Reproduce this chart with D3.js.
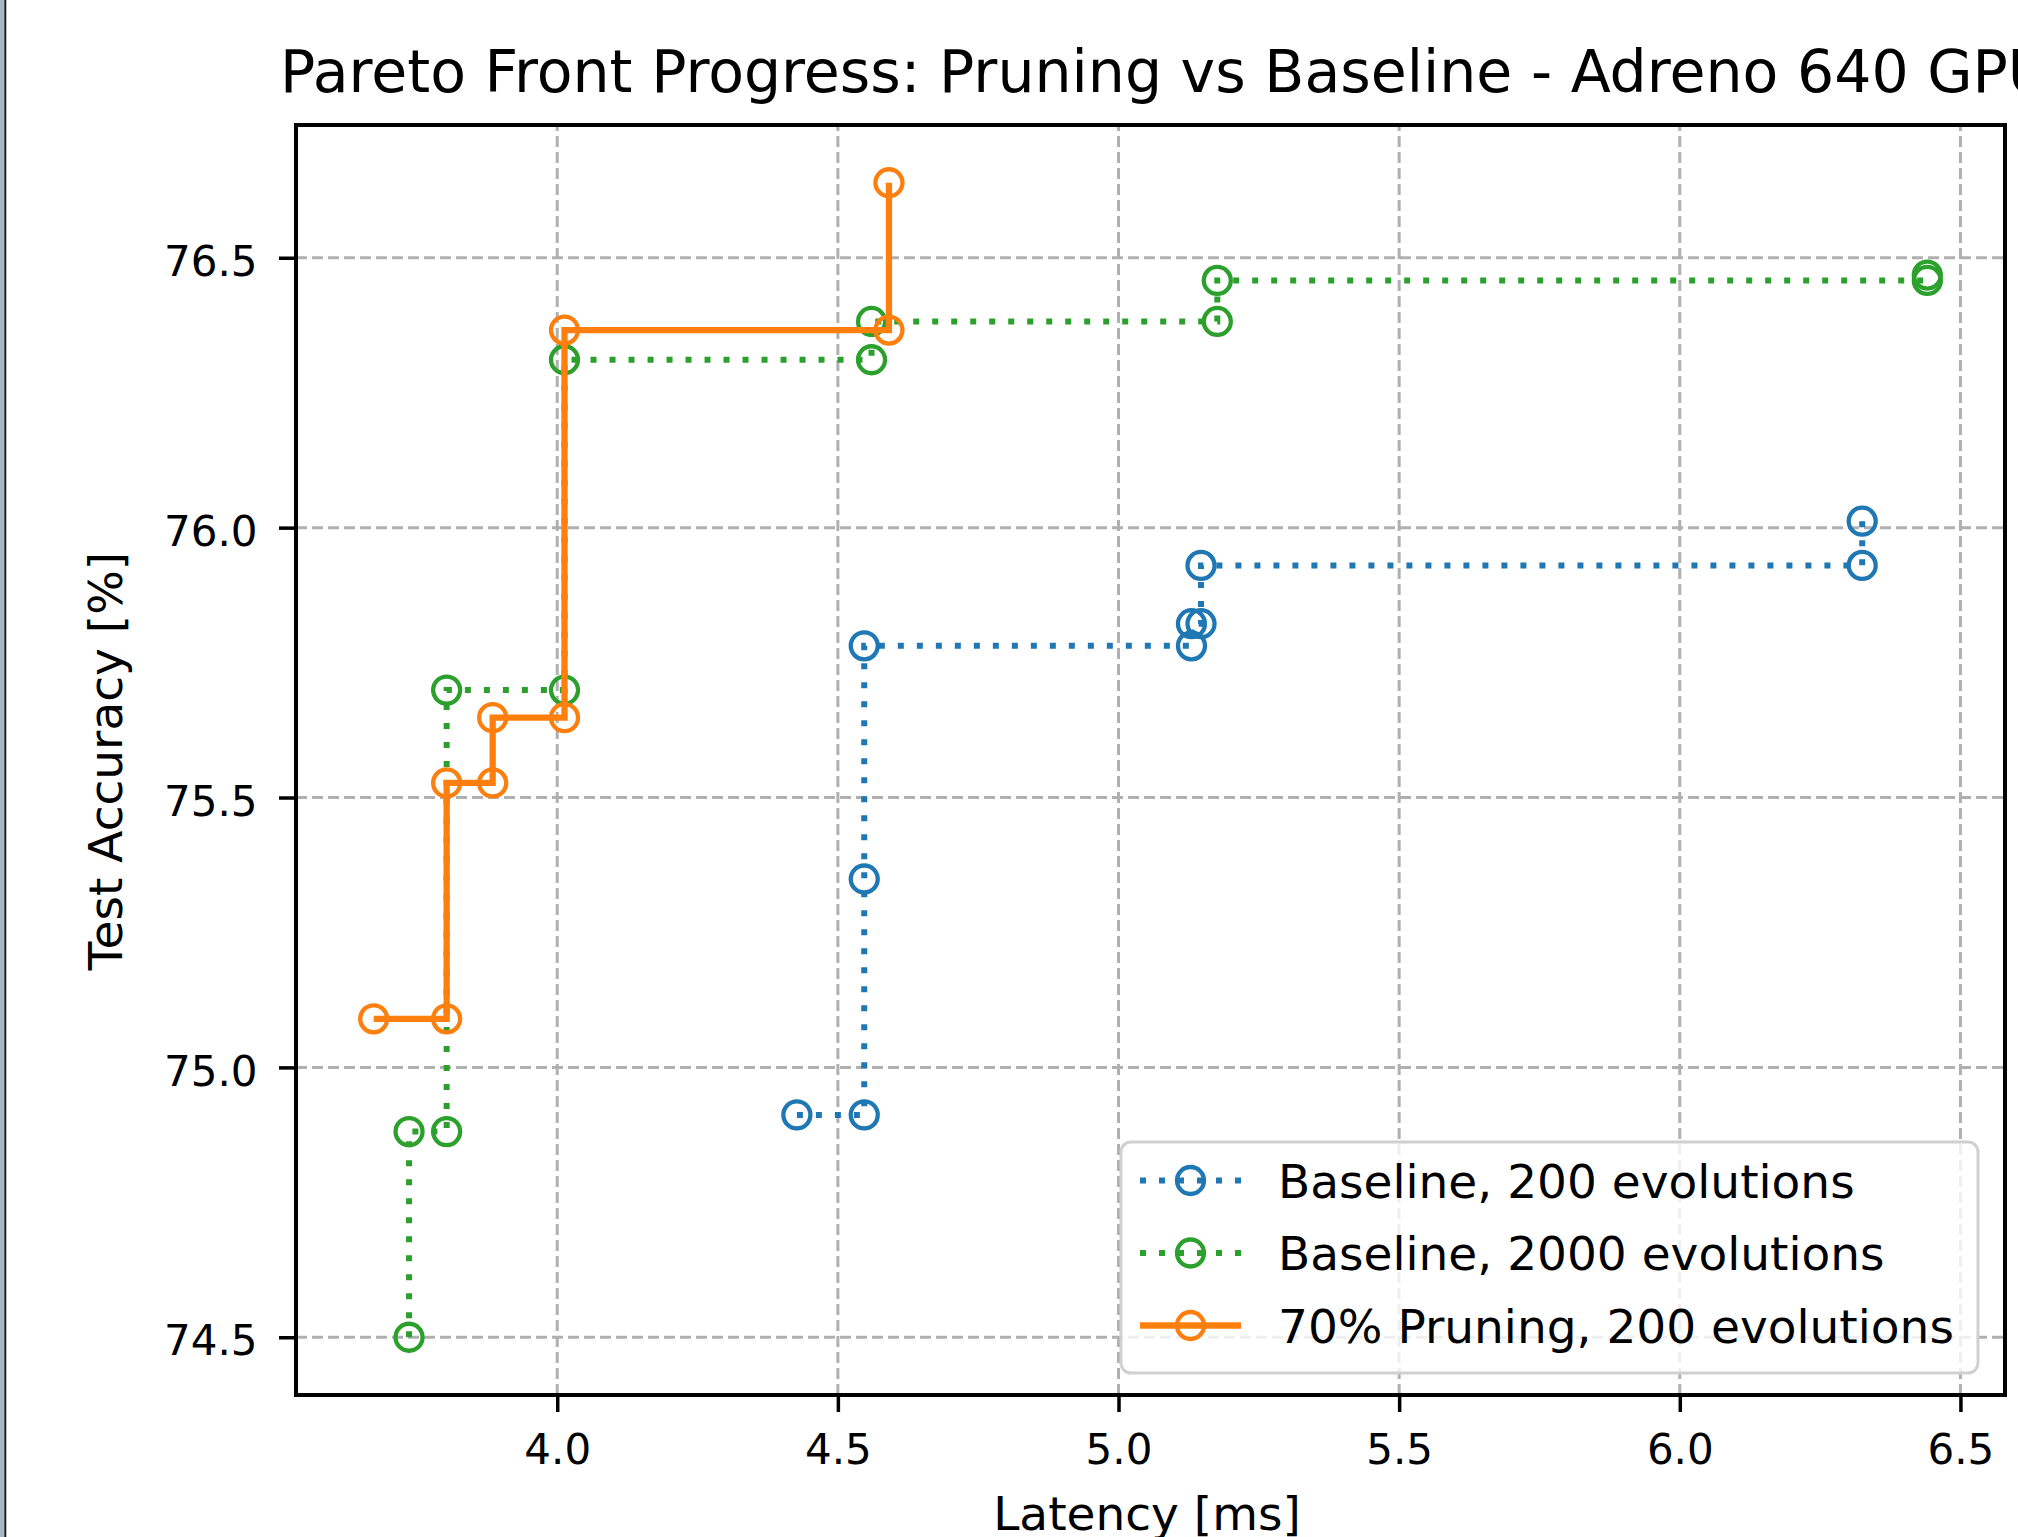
<!DOCTYPE html>
<html><head><meta charset="utf-8">
<script src="https://cdn.jsdelivr.net/npm/d3@7/dist/d3.min.js"></script>
<style>
body{margin:0;background:#fff}
svg{display:block}
text{font-family:"DejaVu Sans",sans-serif;fill:#000}
</style>
</head><body>
<svg id="c" width="2018" height="1537"></svg>
<script>
// ---- data ----
const seriesNames = ["Baseline, 200 evolutions", "Baseline, 2000 evolutions", "70% Pruning, 200 evolutions"];
const base200Latency  = [4.427, 4.547, 4.547, 4.547, 5.130, 5.130, 5.147, 5.147, 6.325, 6.325];
const base200Accuracy = [74.912, 74.912, 75.349, 75.781, 75.781, 75.822, 75.822, 75.930, 75.930, 76.012];
const base2000Latency  = [3.736, 3.736, 3.803, 3.803, 4.013, 4.013, 4.560, 4.560, 5.176, 5.176, 6.441, 6.441];
const base2000Accuracy = [74.500, 74.881, 74.881, 75.699, 75.699, 76.311, 76.311, 76.382, 76.382, 76.458, 76.458, 76.468];
const pruneLatency  = [3.673, 3.803, 3.803, 3.885, 3.885, 4.013, 4.013, 4.591, 4.591];
const pruneAccuracy = [75.090, 75.090, 75.527, 75.527, 75.648, 75.648, 76.366, 76.366, 76.639];
const xTicks = [4.0, 4.5, 5.0, 5.5, 6.0, 6.5];
const yTicks = [74.5, 75.0, 75.5, 76.0, 76.5];
const titleText = "Pareto Front Progress: Pruning vs Baseline - Adreno 640 GPU";
const xLabelText = "Latency [ms]";
const yLabelText = "Test Accuracy [%]";

// ---- styles / layout ----
const styles = [
  {color: "#1f77b4", dash: "6,13", width: 6},
  {color: "#2ca02c", dash: "6,13", width: 6},
  {color: "#ff7f0e", dash: null, width: 6.3}
];
const plot = {left: 296, top: 125, right: 2005, bottom: 1395};
const markerR = 13.5, markerW = 4.3;

const series = [
  {xs: base200Latency, ys: base200Accuracy},
  {xs: base2000Latency, ys: base2000Accuracy},
  {xs: pruneLatency, ys: pruneAccuracy}
].map((s, i) => ({name: seriesNames[i], style: styles[i], pts: s.xs.map((v, j) => [v, s.ys[j]])}));

const allX = [].concat(base200Latency, base2000Latency, pruneLatency);
const allY = [].concat(base200Accuracy, base2000Accuracy, pruneAccuracy);
const [xa, xb] = d3.extent(allX), [ya, yb] = d3.extent(allY);
const xp = (xb - xa) * 0.05, yp = (yb - ya) * 0.05;
const x = d3.scaleLinear().domain([xa - xp, xb + xp]).range([plot.left, plot.right]);
const y = d3.scaleLinear().domain([ya - yp, yb + yp]).range([plot.bottom, plot.top]);

const svg = d3.select("#c");
svg.append("rect").attr("width", 2018).attr("height", 1537).attr("fill", "#fff");

// left border artifact
svg.append("rect").attr("x", 0).attr("y", 0).attr("width", 4.3).attr("height", 1537).attr("fill", "#a6b6c6");
svg.append("rect").attr("x", 4.3).attr("y", 0).attr("width", 2).attr("height", 1537).attr("fill", "#1a1a1a");

// grid
const grid = svg.append("g").attr("stroke", "#b0b0b0").attr("stroke-width", 3).attr("stroke-dasharray", "11,5").attr("fill", "none");
grid.selectAll(".gx").data(xTicks).join("line")
  .attr("x1", d => x(d)).attr("x2", d => x(d)).attr("y1", plot.bottom).attr("y2", plot.top);
grid.selectAll(".gy").data(yTicks).join("line")
  .attr("y1", d => y(d)).attr("y2", d => y(d)).attr("x1", plot.left).attr("x2", plot.right);

// series
const line = d3.line().x(d => x(d[0])).y(d => y(d[1]));
series.forEach(s => {
  const g = svg.append("g");
  g.append("path").datum(s.pts).attr("d", line)
    .attr("fill", "none").attr("stroke", s.style.color).attr("stroke-width", s.style.width)
    .attr("stroke-dasharray", s.style.dash).attr("stroke-linecap", "butt").attr("stroke-linejoin", "miter");
  g.selectAll("circle").data(s.pts).join("circle")
    .attr("cx", d => x(d[0])).attr("cy", d => y(d[1])).attr("r", markerR)
    .attr("fill", "none").attr("stroke", s.style.color).attr("stroke-width", markerW);
});

// axes
const xAxis = d3.axisBottom(x).tickValues(xTicks).tickFormat(d3.format(".1f")).tickSizeInner(17).tickSizeOuter(0).tickPadding(22);
const gx = svg.append("g").attr("transform", `translate(0,${plot.bottom})`).call(xAxis);
gx.select(".domain").remove();
gx.selectAll(".tick line").attr("stroke", "#000").attr("stroke-width", 3.5);
gx.selectAll(".tick text").attr("font-size", 42).attr("font-family", "DejaVu Sans").attr("fill", "#000");

const yAxis = d3.axisLeft(y).tickValues(yTicks).tickFormat(d3.format(".1f")).tickSizeInner(17).tickSizeOuter(0).tickPadding(21.5);
const gy = svg.append("g").attr("transform", `translate(${plot.left},0)`).call(yAxis);
gy.select(".domain").remove();
gy.selectAll(".tick line").attr("stroke", "#000").attr("stroke-width", 3.5);
gy.selectAll(".tick text").attr("font-size", 42).attr("font-family", "DejaVu Sans").attr("fill", "#000").attr("dy", "0.42em");

// spines
svg.append("rect").attr("x", plot.left).attr("y", plot.top)
  .attr("width", plot.right - plot.left).attr("height", plot.bottom - plot.top)
  .attr("fill", "none").attr("stroke", "#000").attr("stroke-width", 4);

// title & labels
svg.append("text").attr("x", 280).attr("y", 92).attr("font-size", 58.5).text(titleText);
svg.append("text").attr("x", 1147).attr("y", 1530).attr("text-anchor", "middle").attr("font-size", 47).text(xLabelText);
svg.append("text").attr("transform", "translate(122,761) rotate(-90)").attr("text-anchor", "middle").attr("font-size", 47).text(yLabelText);

// legend
const lg = svg.append("g");
lg.append("rect").attr("x", 1121).attr("y", 1142).attr("width", 857).attr("height", 231).attr("rx", 10)
  .attr("fill", "#fff").attr("fill-opacity", 0.8).attr("stroke", "#d0d0d0").attr("stroke-width", 3);
const rows = lg.selectAll(".row").data(series).join("g").attr("transform", (d, i) => `translate(0,${1180.5 + i * 72.5})`);
rows.append("line").attr("x1", 1140).attr("x2", 1241).attr("y1", 0).attr("y2", 0)
  .attr("stroke", d => d.style.color).attr("stroke-width", d => d.style.width).attr("stroke-dasharray", d => d.style.dash);
rows.append("circle").attr("cx", 1190.5).attr("cy", 0).attr("r", markerR)
  .attr("fill", "none").attr("stroke", d => d.style.color).attr("stroke-width", markerW);
rows.append("text").attr("x", 1278).attr("y", 17).attr("font-size", 47).text(d => d.name);
</script>
</body></html>
